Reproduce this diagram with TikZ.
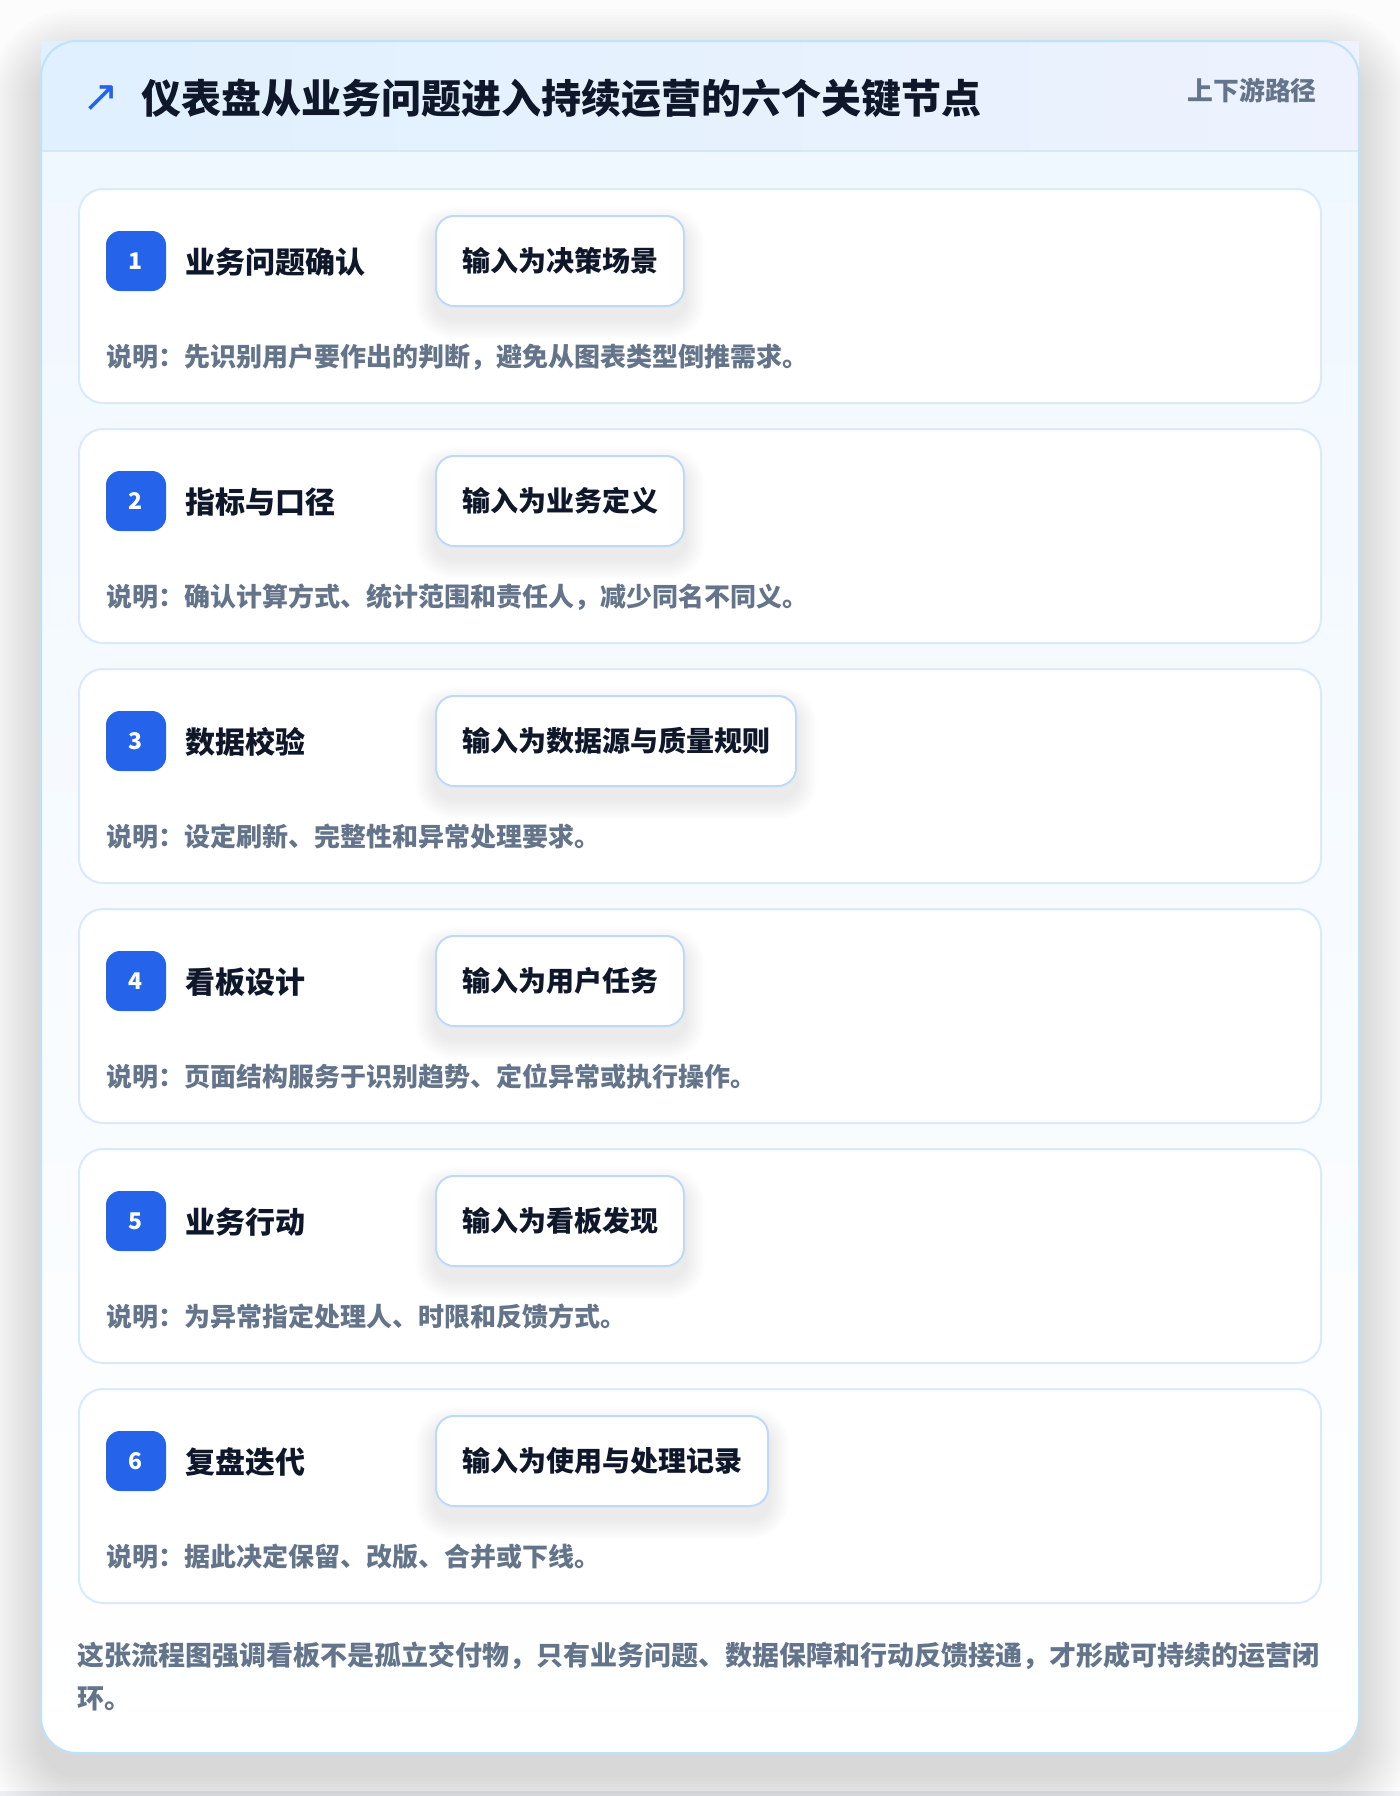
\documentclass[tikz,border=0pt]{standalone}
\usepackage{fontspec}
\setmainfont{Noto Sans CJK SC}
\newfontfamily\symfont{DejaVu Sans}
\usetikzlibrary{calc}
\pgfdeclarelayer{bg}
\pgfdeclarelayer{cards}
\pgfdeclarelayer{shadows}
\pgfsetlayers{bg,cards,shadows,main}
\definecolor{ink}{RGB}{15,23,42}
\definecolor{muted}{RGB}{100,116,139}
\definecolor{badgeblue}{RGB}{37,99,235}
\definecolor{outerborder}{RGB}{190,226,249}
\definecolor{cardborder}{RGB}{218,233,252}
\definecolor{boxborder}{RGB}{191,217,250}
\definecolor{hdl}{RGB}{224,240,254}
\definecolor{hdr}{RGB}{237,242,254}
\definecolor{hdline}{RGB}{214,231,250}
\definecolor{bodytop}{RGB}{239,247,255}
\definecolor{pagebg}{RGB}{252,252,252}
\definecolor{stripbg}{RGB}{236,238,242}
\begin{document}
\begin{tikzpicture}[x=0.5pt,y=-0.5pt,
  stepcard/.style={draw=cardborder, line width=1pt, fill=white, rounded corners=12pt,
    minimum width=621pt, minimum height=107pt, inner sep=0pt},
  badgebox/.style={fill=badgeblue, rounded corners=7pt, minimum size=30pt, inner sep=0pt,
    text=white, font=\bfseries\fontsize{11.5}{13}\selectfont},
  steptitle/.style={anchor=base west, inner sep=0pt, text=ink, font=\bfseries\fontsize{15}{18}\selectfont},
  inputbox/.style={draw=boxborder, line width=1pt, fill=white, rounded corners=9pt,
    minimum height=45pt, inner xsep=13pt, inner ysep=0pt, anchor=west, text=ink,
    font=\bfseries\fontsize{14}{17}\selectfont},
  desctext/.style={anchor=base west, inner sep=0pt, text=muted, font=\bfseries\fontsize{13}{16}\selectfont},
  softshadow/.style={fill=black, opacity=0.008}
]
\useasboundingbox (0,0) rectangle (1400,1796);
\begin{pgfonlayer}{bg}
\fill[pagebg] (0,0) rectangle (1400,1796);
\fill[stripbg] (0,1791) rectangle (1400,1796);
% outer card shadow
\foreach \k in {1,...,18}{
  \fill[black, opacity=0.006, rounded corners={18pt+\k*1.5pt}]
    ({41-\k*3},{41-\k*3+22}) rectangle ({1359+\k*3},{1753+\k*3+22});
}
% outer card
\path[top color=bodytop, bottom color=white, rounded corners=18pt] (41,41) rectangle (1359,1753);
\shade[left color=hdl, right color=hdr] (41,41) rectangle (1359,151);
\draw[hdline, line width=1pt] (41,151) -- (1359,151);
\draw[outerborder, line width=1pt, rounded corners=18pt] (41,41) rectangle (1359,1753);
\end{pgfonlayer}
% header
\node[inner sep=0pt, text=badgeblue, font=\symfont\fontsize{22}{24}\selectfont] (icon) at (101,99) {↗};
\node[anchor=base west, inner sep=0pt, text=ink, font=\bfseries\fontsize{20}{24}\selectfont] (title) at (141,113) {仪表盘从业务问题进入持续运营的六个关键节点};
\node[anchor=base east, inner sep=0pt, text=muted, font=\bfseries\fontsize{12.9}{15}\selectfont] (tag) at (1317,100) {上下游路径};
% steps
\foreach \i/\st/\inp/\dsc in {
  1/业务问题确认/输入为决策场景/说明：先识别用户要作出的判断，避免从图表类型倒推需求。,
  2/指标与口径/输入为业务定义/说明：确认计算方式、统计范围和责任人，减少同名不同义。,
  3/数据校验/输入为数据源与质量规则/说明：设定刷新、完整性和异常处理要求。,
  4/看板设计/输入为用户任务/说明：页面结构服务于识别趋势、定位异常或执行操作。,
  5/业务行动/输入为看板发现/说明：为异常指定处理人、时限和反馈方式。,
  6/复盘迭代/输入为使用与处理记录/说明：据此决定保留、改版、合并或下线。}{
  \pgfmathsetmacro\T{189+(\i-1)*240}
  \begin{pgfonlayer}{cards}
  \node[stepcard] (card\i) at (700,\T+107) {};
  \end{pgfonlayer}
  \node[badgebox] (badge\i) at (136,\T+72) {\i};
  \node[steptitle] (title\i) at (185,\T+84) {\st};
  \node[inputbox] (input\i) at (435,\T+72) {\inp};
  \begin{pgfonlayer}{shadows}
  \foreach \k in {1,...,10}{
    \fill[softshadow, rounded corners={9pt+\k*1pt}]
      ($(input\i.north west)+({-\k*2},{-\k*2+12})$) rectangle
      ($(input\i.south east)+({\k*2},{\k*2+12})$);
  }
  \end{pgfonlayer}
  \node[desctext] (desc\i) at (106,\T+177) {\dsc};
}
% footer
\node[anchor=base west, inner sep=0pt, align=left, text=muted,
  font=\bfseries\fontsize{13.5}{21.5}\selectfont] (footer) at (77,1708)
  {这张流程图强调看板不是孤立交付物，只有业务问题、数据保障和行动反馈接通，才形成可持续的运营闭\\环。};
\end{tikzpicture}
\end{document}
